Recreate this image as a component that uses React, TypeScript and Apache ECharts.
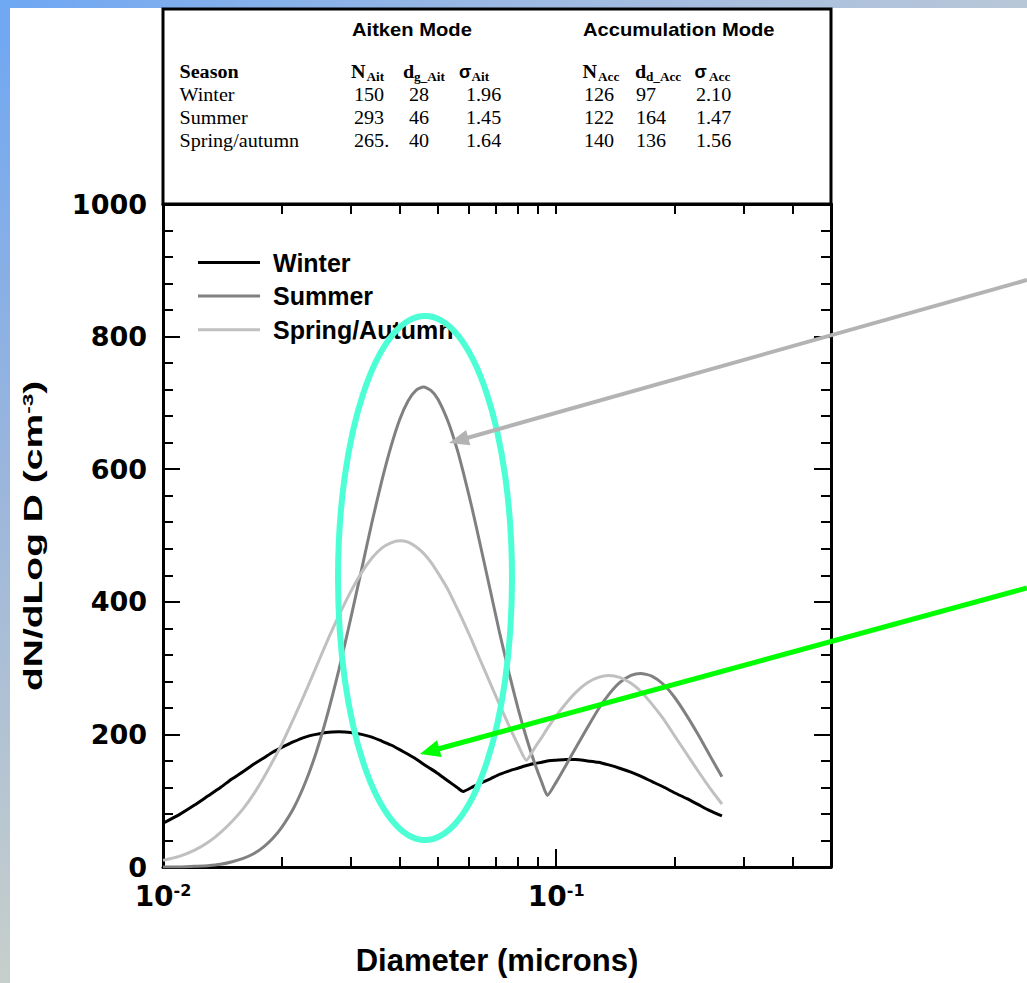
import React, { useEffect, useRef } from 'react';
import * as echarts from 'echarts';

// ---- data ----
const diameters = [0.010, 0.011, 0.012, 0.013, 0.014, 0.015, 0.016, 0.017, 0.018, 0.019, 0.020, 0.0215, 0.023, 0.0245, 0.026, 0.028, 0.030, 0.032, 0.034, 0.036, 0.038, 0.040, 0.042, 0.044, 0.046, 0.048, 0.050, 0.053, 0.056, 0.058, 0.061, 0.064, 0.068, 0.072, 0.076, 0.080, 0.084, 0.088, 0.092, 0.095, 0.100, 0.106, 0.112, 0.120, 0.128, 0.136, 0.145, 0.155, 0.164, 0.175, 0.187, 0.200, 0.215, 0.230, 0.246, 0.264];
const winter = [66, 79, 93, 107, 120, 133, 144, 155, 164, 173, 180, 189, 196, 200, 203, 204, 203, 200, 196, 190, 184, 177, 170, 163, 155, 148, 141, 130, 120, 114, 120, 126, 133, 140, 145, 149, 153, 156, 158, 160, 161, 162, 162, 160, 158, 154, 149, 143, 137, 129, 121, 112, 103, 94, 85, 77];
const summer = [0, 0, 1, 2, 4, 8, 13, 20, 30, 43, 59, 89, 127, 172, 223, 297, 374, 449, 520, 582, 634, 675, 703, 719, 724, 719, 706, 673, 630, 596, 543, 488, 417, 350, 291, 239, 195, 158, 127, 108, 128, 154, 179, 210, 238, 260, 278, 289, 292, 288, 276, 256, 228, 199, 168, 136];
const spring = [10, 16, 25, 37, 52, 69, 88, 110, 134, 159, 184, 224, 263, 301, 337, 379, 415, 444, 466, 481, 489, 492, 490, 483, 473, 460, 444, 419, 390, 371, 342, 313, 277, 243, 212, 184, 161, 179, 196, 209, 228, 247, 263, 278, 286, 289, 286, 277, 265, 246, 224, 198, 170, 144, 119, 95];
const seriesNames = ['Winter', 'Summer', 'Spring/Autumn'];

const xMin = 0.01;
const xMax = 0.5;
const xLabelValues = [0.01, 0.1];
const xMinorTickValues = [0.02, 0.03, 0.04, 0.05, 0.06, 0.07, 0.08, 0.09, 0.2, 0.3, 0.4];
const xMajorTickValues = [0.1];
const yMin = 0;
const yMax = 1000;
const yInterval = 200;

// table
const tableModes = ['Aitken Mode', 'Accumulation Mode'];
const tableSeasons = ['Winter', 'Summer', 'Spring/autumn'];
const aitN = ['150', '293', '265.'];
const aitD = ['28', '46', '40'];
const aitSigma = ['1.96', '1.45', '1.64'];
const accN = ['126', '122', '140'];
const accD = ['97', '164', '136'];
const accSigma = ['2.10', '1.47', '1.56'];

const SANS = "'Liberation Sans', Arial, sans-serif";
const SERIF = "'Liberation Serif', 'Times New Roman', serif";
const TICK = "'DejaVu Sans', sans-serif";

function txt(x: number, y: number, text: string, opts: any = {}) {
  return {
    type: 'text',
    x,
    y,
    scaleX: opts.scaleX ?? 1,
    z: 10,
    style: {
      text,
      fontSize: opts.fontSize ?? 19,
      fontFamily: opts.fontFamily ?? SERIF,
      fontWeight: opts.fontWeight ?? 'normal',
      fill: '#000',
      align: 'left',
      verticalAlign: 'middle',
    },
  };
}

function buildTable() {
  const els: any[] = [];
  els.push({
    type: 'rect',
    shape: { x: 163, y: 9, width: 668, height: 195 },
    style: { fill: '#ffffff', stroke: '#000', lineWidth: 3 },
    z: 5,
  });
  els.push(txt(352, 30, tableModes[0], { fontSize: 18, fontFamily: SANS, fontWeight: 'bold', scaleX: 1.12 }));
  els.push(txt(583, 30, tableModes[1], { fontSize: 18, fontFamily: SANS, fontWeight: 'bold', scaleX: 1.12 }));
  const hy = 72;
  const sy = 77;
  const bold = { fontWeight: 'bold', scaleX: 1.06 };
  const sub = { fontWeight: 'bold', fontSize: 12, scaleX: 1.1 };
  const sig = { fontWeight: 'bold', fontFamily: SANS, fontSize: 18 };
  els.push(txt(179.5, hy, 'Season', bold));
  els.push(txt(351, hy, 'N', bold));
  els.push(txt(366.5, sy, 'Ait', sub));
  els.push(txt(403, hy, 'd', bold));
  els.push(txt(414, sy, 'g_Ait', sub));
  els.push(txt(459, hy, 'σ', sig));
  els.push(txt(471.5, sy, 'Ait', sub));
  els.push(txt(582.5, hy, 'N', bold));
  els.push(txt(598, sy, 'Acc', sub));
  els.push(txt(635, hy, 'd', bold));
  els.push(txt(646, sy, 'd_Acc', sub));
  els.push(txt(694.5, hy, 'σ', sig));
  els.push(txt(709, sy, 'Acc', sub));
  const cols: [number, string[]][] = [
    [354, aitN], [409, aitD], [466, aitSigma], [584, accN], [636, accD], [696, accSigma],
  ];
  tableSeasons.forEach((s, i) => {
    const y = 95 + i * 23;
    els.push(txt(179.5, y, s, { scaleX: 1.06 }));
    cols.forEach(([x, arr]) => els.push(txt(x, y, arr[i], { scaleX: 1.06 })));
  });
  return els;
}

function buildAnnotations() {
  return [
    {
      type: 'ellipse',
      z: 100,
      shape: { cx: 425, cy: 578, rx: 87, ry: 262 },
      style: { fill: 'none', stroke: '#4dffd4', lineWidth: 6 },
    },
    {
      type: 'line',
      z: 101,
      shape: { x1: 1027, y1: 280, x2: 467, y2: 438 },
      style: { stroke: '#b3b3b3', lineWidth: 4 },
    },
    {
      type: 'polygon',
      z: 101,
      shape: { points: [[449, 443], [470.4, 445.3], [466.1, 429.9]] },
      style: { fill: '#b3b3b3' },
    },
    {
      type: 'line',
      z: 101,
      shape: { x1: 1027, y1: 588, x2: 438, y2: 749 },
      style: { stroke: '#00ff00', lineWidth: 5 },
    },
    {
      type: 'polygon',
      z: 101,
      shape: { points: [[420, 754], [441.6, 757.1], [437.0, 740.2]] },
      style: { fill: '#00ff00' },
    },
  ];
}

const yTitle = {
  type: 'text',
  x: 33,
  y: 536,
  rotation: Math.PI / 2,
  scaleX: 1.5,
  z: 10,
  style: {
    text: '{a|dN/dLog D (cm}{s|-3}{a|)}',
    rich: {
      a: { fontSize: 26, fontWeight: 'bold', fontFamily: SANS, fill: '#000', color: '#000' },
      s: { fontSize: 15, fontWeight: 'bold', fontFamily: SANS, fill: '#000', color: '#000', verticalAlign: 'top' },
    },
    align: 'center',
    verticalAlign: 'middle',
  },
};

const axisLineStyle = { color: '#000', width: 3 };
const tickLineStyle = { color: '#000', width: 2 };

export default function App() {
  const ref = useRef<HTMLDivElement>(null);
  useEffect(() => {
    if (!ref.current) return;
    const chart = echarts.init(ref.current, null, { renderer: 'svg' });
    const colors = ['#000000', '#808080', '#c0c0c0'];
    const seriesData = [winter, summer, spring];
    const option: any = {
      animation: false,
      grid: { left: 163, top: 204, width: 668, height: 663, containLabel: false, outerBoundsMode: 'none' },
      legend: {
        show: true,
        orient: 'vertical',
        left: 198,
        top: 250,
        padding: 0,
        itemGap: 8.6,
        itemWidth: 62,
        itemHeight: 3,
        icon: 'rect',
        data: seriesNames,
        textStyle: { fontSize: 25, fontWeight: 'bold', fontFamily: SANS, color: '#000', padding: [0, 0, 0, 8] },
      },
      xAxis: [
        {
          type: 'log',
          logBase: 10,
          min: xMin,
          max: xMax,
          position: 'bottom',
          axisLine: { show: true, lineStyle: axisLineStyle },
          axisTick: { show: true, inside: true, length: 10, lineStyle: tickLineStyle, customValues: xMinorTickValues },
          axisLabel: {
            show: true,
            customValues: xLabelValues,
            margin: 15,
            formatter: (v: number) => '{b|10}{s|' + Math.round(Math.log10(v)) + '}',
            rich: {
              b: { fontSize: 28, lineHeight: 28, fontWeight: 'bold', fontFamily: TICK, color: '#000' },
              s: { fontSize: 16, fontWeight: 'bold', fontFamily: TICK, color: '#000', verticalAlign: 'top' },
            },
          },
          splitLine: { show: false },
          minorTick: { show: false },
          name: 'Diameter (microns)',
          nameLocation: 'middle',
          nameGap: 78,
          nameTextStyle: { fontSize: 31, fontWeight: 'bold', fontFamily: SANS, color: '#000' },
        },
        {
          type: 'log',
          logBase: 10,
          min: xMin,
          max: xMax,
          position: 'bottom',
          axisLine: { show: false },
          axisTick: { show: true, inside: true, length: 18, lineStyle: tickLineStyle, customValues: xMajorTickValues },
          axisLabel: { show: false },
          splitLine: { show: false },
        },
        {
          type: 'log',
          logBase: 10,
          min: xMin,
          max: xMax,
          position: 'top',
          axisLine: { show: true, lineStyle: axisLineStyle },
          axisTick: { show: true, inside: true, length: 10, lineStyle: tickLineStyle, customValues: [...xMinorTickValues, ...xMajorTickValues] },
          axisLabel: { show: false },
          splitLine: { show: false },
        },
      ],
      yAxis: [
        {
          type: 'value',
          min: yMin,
          max: yMax,
          interval: yInterval,
          position: 'left',
          axisLine: { show: true, lineStyle: axisLineStyle },
          axisTick: { show: true, inside: true, length: 17, lineStyle: tickLineStyle },
          minorTick: { show: true, splitNumber: 5, length: 10, lineStyle: tickLineStyle },
          axisLabel: {
            show: true,
            margin: 16,
            fontSize: 27,
            lineHeight: 22,
            fontWeight: 'bold',
            fontFamily: TICK,
            color: '#000',
            formatter: (v: number) => String(v),
          },
          splitLine: { show: false },
          minorSplitLine: { show: false },
        },
        {
          type: 'value',
          min: yMin,
          max: yMax,
          interval: yInterval,
          position: 'right',
          axisLine: { show: true, lineStyle: axisLineStyle },
          axisTick: { show: true, inside: true, length: 17, lineStyle: tickLineStyle },
          minorTick: { show: true, splitNumber: 5, length: 10, lineStyle: tickLineStyle },
          axisLabel: { show: false },
          splitLine: { show: false },
          minorSplitLine: { show: false },
        },
      ],
      series: seriesNames.map((name, k) => ({
        name,
        type: 'line',
        xAxisIndex: 0,
        yAxisIndex: 0,
        symbol: 'none',
        smooth: 0.2,
        color: colors[k],
        lineStyle: { color: colors[k], width: 3 },
        itemStyle: { color: colors[k] },
        data: diameters.map((d, i) => [d, seriesData[k][i]]),
        z: 3,
      })),
      graphic: [...buildTable(), yTitle, ...buildAnnotations()],
    };
    chart.setOption(option);
    return () => chart.dispose();
  }, []);
  return (
    <div
      ref={ref}
      style={{
        position: 'fixed',
        left: 0,
        top: 0,
        width: 1027,
        height: 983,
        background:
          'linear-gradient(to right, #6ea7f3, #9cb9e3 50%, #b8c7d8) left top / 100% 8px no-repeat, linear-gradient(to bottom, #6ea7f3, #9cb6db 50%, #c7cfcb) left top / 10px 100% no-repeat, #ffffff',
      }}
    />
  );
}
